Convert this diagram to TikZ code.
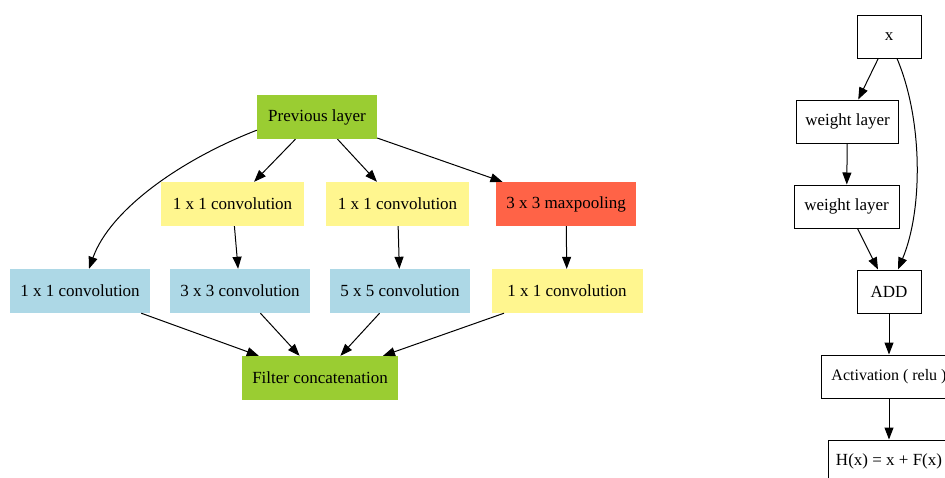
\documentclass[tikz,border=0pt]{standalone}
\usepackage{fontspec}
\setmainfont{Liberation Serif}
\usetikzlibrary{arrows.meta}
\definecolor{yellowgreen}{HTML}{9ACD32}
\definecolor{khakione}{HTML}{FFF68F}
\definecolor{lightbluefill}{HTML}{ADD8E6}
\definecolor{tomatofill}{HTML}{FF6347}
\begin{document}
\begin{tikzpicture}[x=1pt,y=-1pt,
  every node/.style={inner sep=0pt, font=\fontsize{17}{19}\selectfont},
  layerbox/.style={minimum height=44pt, minimum width=#1},
  greenbox/.style={layerbox=#1, fill=yellowgreen},
  yellowbox/.style={layerbox=#1, fill=khakione},
  bluebox/.style={layerbox=#1, fill=lightbluefill},
  redbox/.style={layerbox=#1, fill=tomatofill},
  plainbox/.style={draw, line width=1pt, minimum height=43pt, minimum width=#1},
  edge/.style={line width=1pt, -{Triangle[length=12pt,width=9pt]}}]
\useasboundingbox (0,0) rectangle (945,477);
\clip (0,0) rectangle (945,477);

% Inception module
\node[greenbox=120pt]  (prev) at (317,117)   {Previous layer};
\node[yellowbox=143pt] (ca)   at (232.5,204) {1 x 1 convolution};
\node[yellowbox=143pt] (cb)   at (397.5,204) {1 x 1 convolution};
\node[redbox=140pt]    (mp)   at (566,204)   {3 x 3 maxpooling};
\node[bluebox=140pt]   (b1)   at (80,291)    {1 x 1 convolution};
\node[bluebox=140pt]   (b3)   at (240,291)   {3 x 3 convolution};
\node[bluebox=140pt]   (b5)   at (400,291)   {5 x 5 convolution};
\node[yellowbox=151pt] (cc)   at (567,291)   {1 x 1 convolution};
\node[greenbox=156pt]  (fc)   at (320,378)   {Filter concatenation};

\draw[edge] ([yshift=9pt]prev.south west) .. controls (180,160) and (110,210) .. ([xshift=9pt]b1.north);
\draw[edge] (prev) -- (ca);
\draw[edge] (prev) -- (cb);
\draw[edge] (prev) -- (mp);
\draw[edge] (ca) -- (b3);
\draw[edge] (cb) -- (b5);
\draw[edge] (mp) -- (cc);
\draw[edge] (b1) -- (fc);
\draw[edge] (b3) -- (fc);
\draw[edge] (b5) -- (fc);
\draw[edge] (cc) -- (fc);

% Residual block
\node[plainbox=64pt]  (x)   at (889,36.5)    {x};
\node[plainbox=102pt] (wa)  at (847.5,121.5) {weight layer};
\node[plainbox=105pt] (wb)  at (846.5,206.5) {weight layer};
\node[plainbox=64pt]  (add) at (889,291.5)   {ADD};
\node[plainbox=136pt, font=\fontsize{16}{18}\selectfont] (act) at (889,376.5) {Activation ( relu )};
\node[plainbox=122pt] (hx)  at (889,461.5)   {H(x) = x + F(x)};

\draw[edge] (x) -- (wa);
\draw[edge] (wa) -- (wb);
\draw[edge] (wb) -- (add);
\draw[edge] ([xshift=8pt]x.south) .. controls (923,120) and (923,210) .. ([xshift=9pt]add.north);
\draw[edge] (add) -- (act);
\draw[edge] (act) -- (hx);
\end{tikzpicture}
\end{document}
